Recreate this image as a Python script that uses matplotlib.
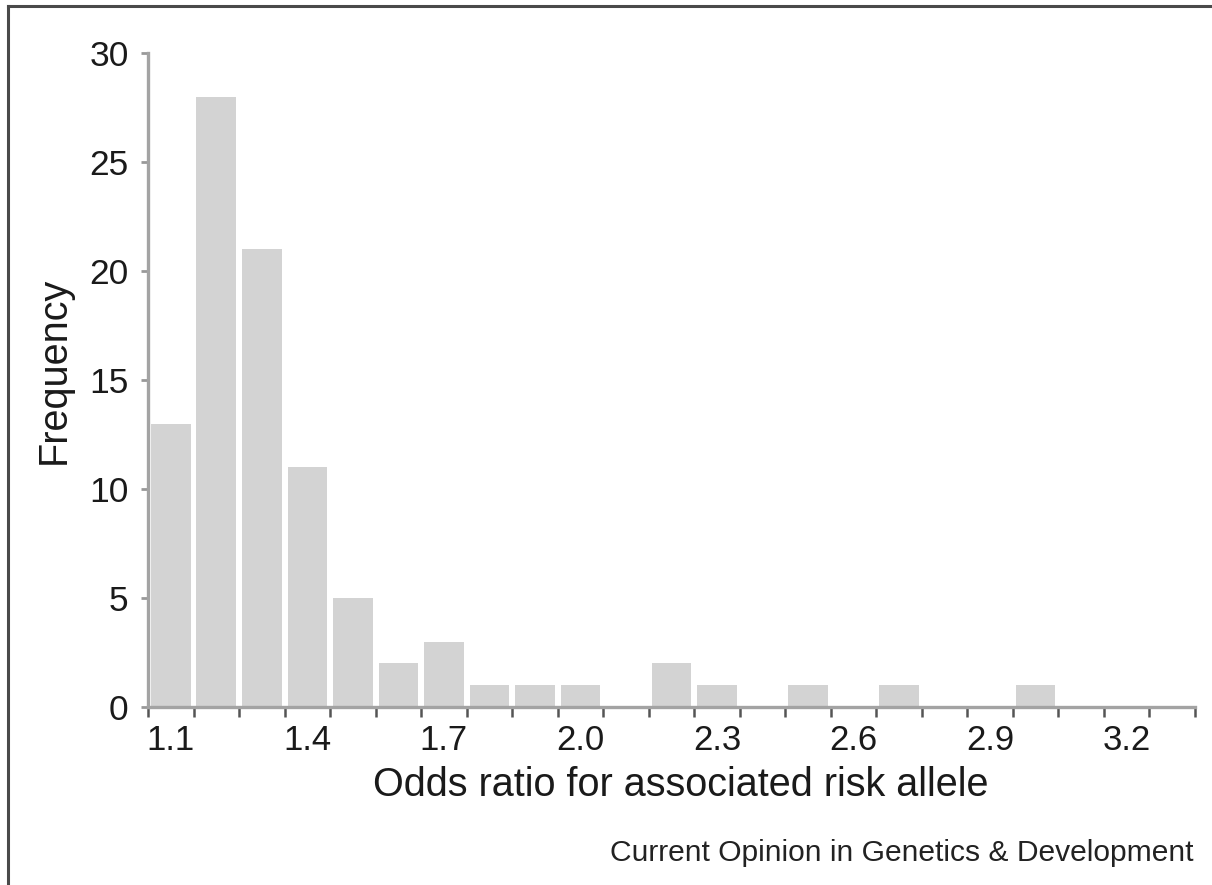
import matplotlib
matplotlib.use("Agg")
import matplotlib.pyplot as plt
from matplotlib.lines import Line2D

# Data
odds_ratio = [1.1, 1.2, 1.3, 1.4, 1.5, 1.6, 1.7, 1.8, 1.9, 2.0, 2.1, 2.2,
              2.3, 2.4, 2.5, 2.6, 2.7, 2.8, 2.9, 3.0, 3.1, 3.2, 3.3]
frequency = [13, 28, 21, 11, 5, 2, 3, 1, 1, 1, 0, 2,
             1, 0, 1, 0, 1, 0, 0, 1, 0, 0, 0]
xtick_values = [1.1, 1.4, 1.7, 2.0, 2.3, 2.6, 2.9, 3.2]
xtick_labels = ["1.1", "1.4", "1.7", "2.0", "2.3", "2.6", "2.9", "3.2"]
ytick_values = [0, 5, 10, 15, 20, 25, 30]
bin_width = 0.1

plt.rcParams['font.family'] = ['Liberation Sans', 'DejaVu Sans']

W, H = 1212, 885
fig = plt.figure(figsize=(W / 100, H / 100), dpi=100)
left, right = 148 / W, 1195 / W
bottom, top = 1 - 707 / H, 1 - 53 / H
ax = fig.add_axes([left, bottom, right - left, top - bottom])

ax.bar(odds_ratio, frequency, width=0.087, color='#d3d3d3', edgecolor='none',
       zorder=2)

ax.set_xlim(odds_ratio[0] - bin_width / 2, odds_ratio[-1] + bin_width / 2)
ax.set_ylim(0, 30)

for s in ['top', 'right']:
    ax.spines[s].set_visible(False)
for s in ['left', 'bottom']:
    ax.spines[s].set_color('#a3a3a3')
    ax.spines[s].set_linewidth(2.4)
ax.spines['left'].set_zorder(3)

# x ticks: labels at bin centers, tick marks at bin edges
ax.set_xticks(xtick_values)
ax.set_xticklabels(xtick_labels, fontsize=25, color='#1a1a1a')
ax.tick_params(axis='x', which='major', length=0, pad=12)
edges = [v - bin_width / 2 for v in odds_ratio] + [odds_ratio[-1] + bin_width / 2]
ax.set_xticks(edges, minor=True)
ax.tick_params(axis='x', which='minor', length=7, width=1.8, color='#555555',
               direction='out')

ax.set_yticks(ytick_values)
ax.set_yticklabels([str(v) for v in ytick_values], fontsize=25.5, color='#1a1a1a')
ax.tick_params(axis='y', which='major', length=5, width=2, color='#999999', pad=9)

ax.set_xlabel('Odds ratio for associated risk allele', fontsize=28.5,
              color='#1a1a1a', labelpad=7)
ax.xaxis.label.set_x(0.509)
ax.set_ylabel('Frequency', fontsize=28.5, color='#1a1a1a', labelpad=12)
ax.yaxis.label.set_y(0.515)

fig.text(1193 / W, 1 - 853 / H, 'Current Opinion in Genetics & Development',
         fontsize=21.6, color='#222222', ha='right', va='center')

# outer frame (top and left)
fig.add_artist(Line2D([8 / W, 1], [1 - 6 / H, 1 - 6 / H], color='#4a4a4a',
                      linewidth=2.2, transform=fig.transFigure))
fig.add_artist(Line2D([8 / W, 8 / W], [0, 1 - 6 / H], color='#4a4a4a',
                      linewidth=2.2, transform=fig.transFigure))

fig.savefig('out.png', dpi=100, facecolor='white')
